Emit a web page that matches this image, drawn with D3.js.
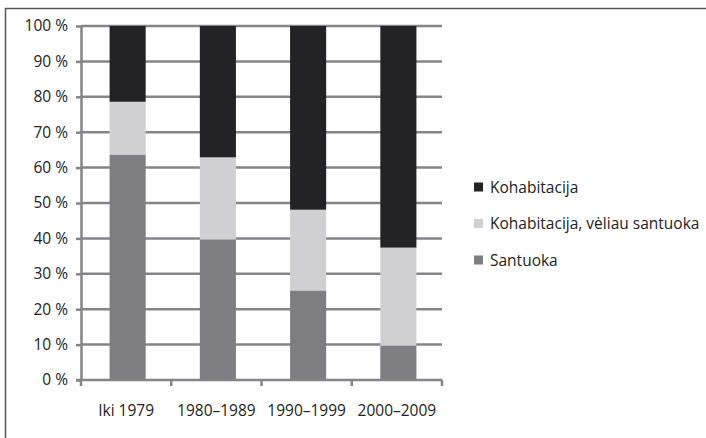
<!DOCTYPE html>
<html lang="lt">
<head>
<meta charset="UTF-8">
<title>Kohabitacija ir santuoka</title>
<script src="https://d3js.org/d3.v7.min.js"></script>
<style>
    body { margin: 0; background: #fff; }
    svg { display: block; font-family: "Open Sans", "DejaVu Sans", sans-serif; }
</style>
</head>
<body>
<div id="chart"></div>
<script>
    // Data (percent)
    const periods = ["Iki 1979", "1980–1989", "1990–1999", "2000–2009"];
    const santuoka = [63.7, 39.7, 25.3, 9.7];
    const kohabVeliau = [14.9, 23.2, 22.8, 27.7];
    const kohabitacija = [21.4, 37.1, 51.9, 62.6];
    const seriesNames = ["Santuoka", "Kohabitacija, vėliau santuoka", "Kohabitacija"];
    const seriesColors = ["#7e7d82", "#d0d0d2", "#232325"];
    const yTicks = [0, 10, 20, 30, 40, 50, 60, 70, 80, 90, 100];

    const W = 706, H = 438;
    const plot = { left: 81, right: 442, top: 26, bottom: 380 };
    const fontSize = 15.5;

    const svg = d3.select("#chart").append("svg")
        .attr("width", W).attr("height", H);

    // outer frame (only left and top edges fall inside the picture)
    svg.append("rect")
        .attr("x", 5.5).attr("y", 8.5)
        .attr("width", 760).attr("height", 500)
        .attr("fill", "none").attr("stroke", "#555").attr("stroke-width", 1.5);

    const rows = periods.map((p, i) => ({
        period: p,
        Santuoka: santuoka[i],
        "Kohabitacija, vėliau santuoka": kohabVeliau[i],
        Kohabitacija: kohabitacija[i]
    }));
    const stacked = d3.stack().keys(seriesNames)(rows);

    const x = d3.scaleBand().domain(periods).range([plot.left, plot.right]).paddingInner(0.6).paddingOuter(0.3);
    const y = d3.scaleLinear().domain([0, 100]).range([plot.bottom, plot.top]);

    // gridlines
    svg.append("g").selectAll("line").data(yTicks.slice(1)).join("line")
        .attr("x1", plot.left).attr("x2", plot.right)
        .attr("y1", d => y(d)).attr("y2", d => y(d))
        .attr("stroke", "#858589").attr("stroke-width", 2.5);

    // bars
    svg.append("g").selectAll("g").data(stacked).join("g")
        .attr("fill", (d, i) => seriesColors[i])
        .selectAll("rect").data(d => d).join("rect")
        .attr("x", d => x(d.data.period) + 1.5)
        .attr("width", x.bandwidth())
        .attr("y", d => y(d[1]))
        .attr("height", d => y(d[0]) - y(d[1]));

    // y axis
    const yAxis = svg.append("g")
        .attr("transform", `translate(${plot.left},0)`)
        .call(d3.axisLeft(y).tickValues(yTicks).tickFormat(d => d + " %").tickSize(5).tickSizeOuter(0));
    yAxis.selectAll("line, path").attr("stroke", "#858589").attr("stroke-width", 2.5);
    yAxis.attr("font-size", fontSize).attr("font-family", null);
    yAxis.selectAll("text").attr("fill", "#222").attr("x", -13);

    // x axis, ticks on category boundaries
    const bounds = [plot.left].concat(periods.map((p, i) => plot.left + (i + 1) * (plot.right - plot.left) / periods.length));
    const xAxis = svg.append("g");
    xAxis.append("line")
        .attr("x1", plot.left - 5).attr("x2", plot.right)
        .attr("y1", plot.bottom).attr("y2", plot.bottom)
        .attr("stroke", "#858589").attr("stroke-width", 2.5);
    xAxis.selectAll("line.tick").data(bounds).join("line").attr("class", "tick")
        .attr("x1", d => d).attr("x2", d => d)
        .attr("y1", plot.bottom).attr("y2", plot.bottom + 6)
        .attr("stroke", "#858589").attr("stroke-width", 2.5);
    xAxis.selectAll("text").data(periods).join("text")
        .attr("x", d => x(d) + x.bandwidth() / 2)
        .attr("y", 416)
        .attr("text-anchor", "middle")
        .attr("font-size", fontSize).attr("fill", "#222")
        .text(d => d);

    // legend (top entry is the top series)
    const legend = svg.append("g");
    const legendItems = seriesNames.slice().reverse();
    const legendColors = seriesColors.slice().reverse();
    legendItems.forEach((name, i) => {
        const ly = 187 + i * 36.5;
        legend.append("rect")
            .attr("x", 474).attr("y", ly - 4.5)
            .attr("width", 9).attr("height", 9)
            .attr("fill", legendColors[i]);
        legend.append("text")
            .attr("x", 490).attr("y", ly + 5.5)
            .attr("font-size", fontSize).attr("fill", "#222")
            .text(name);
    });
</script>
</body>
</html>
